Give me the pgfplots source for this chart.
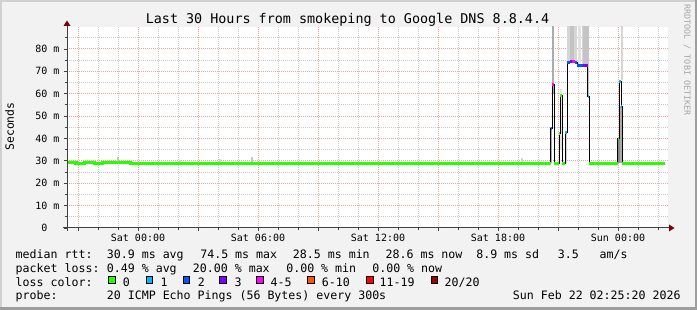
\documentclass[border=0pt]{standalone}
\usepackage{fontspec}
\setmainfont{DejaVu Sans Mono}
\usepackage{pgfplots}
\pgfplotsset{compat=1.18}
\definecolor{bgc}{HTML}{F2F2F2}
\definecolor{shadea}{HTML}{D0D0D0}
\definecolor{shadeb}{HTML}{9E9E9E}
\definecolor{mgridc}{HTML}{EBA3A3}
\definecolor{gridc}{HTML}{CACACA}
\definecolor{axisc}{HTML}{404040}
\definecolor{arrowc}{HTML}{7F0000}
\definecolor{lc0}{HTML}{26FF00}
\definecolor{lc1}{HTML}{00B8FF}
\definecolor{lc2}{HTML}{0059FF}
\definecolor{lc3}{HTML}{7E00FF}
\definecolor{lc4}{HTML}{FF00FF}
\definecolor{lc5}{HTML}{FF5500}
\definecolor{lc6}{HTML}{FF0000}
\definecolor{lc7}{HTML}{A10000}
\definecolor{smA}{HTML}{888888}
\definecolor{smB}{HTML}{ABABAB}
\definecolor{smC}{HTML}{C4C4C4}
\definecolor{smD}{HTML}{D6D6D6}
\definecolor{smE}{HTML}{E2E2E2}
\newcommand\fs[1]{\fontsize{#1}{#1}\selectfont}
\newcommand\smoke[5]{\addplot[draw=none, fill=#5, forget plot] coordinates {(#1,#3) (#2,#3) (#2,#4) (#1,#4)};}
\newcommand\seg[4]{\addplot[#4, line width=3pt, forget plot] coordinates {(#1,#3) (#2,#3)};}
\pgfplotstableread{
x y
-3.55 29.1
-3.1 28.9
-2.7 29.1
-2.2 29.0
-1.8 29.2
-1.3 29.1
-0.9 29.2
-0.4 29.0
0.1 28.8
0.6 28.7
1.1 28.8
1.6 28.6
2.2 28.7
2.9 28.6
3.5 28.7
4.2 28.6
4.9 28.8
5.5 28.6
6.2 28.7
7.0 28.6
7.7 28.7
8.4 28.6
9.1 28.7
9.9 28.6
10.6 28.7
11.4 28.6
12.1 28.7
12.9 28.6
13.7 28.7
14.5 28.7
15.3 28.8
16.1 28.7
16.9 28.8
17.7 28.7
18.5 28.8
19.3 28.7
20.0 28.8
20.63 28.8
}\baseA
\pgfplotstableread{
x y
22.565 28.7
22.9 28.9
23.3 28.7
23.7 28.8
23.985 28.8
}\baseD
\pgfplotstableread{
x y
24.215 28.7
24.6 28.8
25.0 28.7
25.5 28.8
25.9 28.6
26.2 28.7
26.35 28.7
}\baseE
\pgfplotstableread{
x y
20.3 28.8
20.63 44.6
20.72 64.3
20.82 28.7
21.07 42.3
21.12 59.4
21.22 28.8
21.37 42.5
21.47 73.9
21.6 74.4
21.72 74.5
21.85 73.8
21.95 72.5
22.27 72.6
22.475 58.9
22.565 28.7
23.985 40.0
24.05 65.6
24.15 54.5
24.215 28.7
24.5 28.7
}\median
\begin{document}
\begin{tikzpicture}[x=1pt,y=1pt]
\fill[bgc] (0,0) rectangle (697,310);
\fill[shadea] (0,0) rectangle (2,310);
\fill[shadea] (0,308) rectangle (697,310);
\fill[shadeb] (695,0) rectangle (697,310);
\fill[shadeb] (0,0) rectangle (697,2.5);
\begin{axis}[
  at={(67pt,82pt)}, anchor=south west,
  scale only axis, width=601pt, height=201pt,
  xmin=-3.55, xmax=26.5, ymin=0, ymax=89.8,
  axis line style={draw=none},
  axis background/.style={fill=white},
  tick pos=left, tick align=outside,
  major tick length=3pt, minor tick length=2pt,
  every tick/.style={axisc, line width=0.8pt},
  xtick={-3,0,...,24},
  xticklabels={,Sat 00:00,,Sat 06:00,,Sat 12:00,,Sat 18:00,,Sun 00:00},
  minor xtick={-3,-2,...,26},
  ytick={0,10,...,80},
  yticklabels={0\hphantom{xx},10 m,20 m,30 m,40 m,50 m,60 m,70 m,80 m},
  minor ytick={5,15,...,85},
  grid=both,
  major grid style={mgridc, line width=1pt, dash pattern=on 1pt off 1pt},
  minor grid style={gridc, line width=1pt, dash pattern=on 1pt off 1pt},
  tick label style={font=\fs{10}, text=black},
  xticklabel style={anchor=base, yshift=-10.5pt},
  yticklabel style={anchor=east, xshift=-1pt},
]
% smoke (ping spread)
\smoke{-3.52}{-3.45}{28.4}{29.9}{smC}
\smoke{-1.78}{-1.70}{28.0}{29.2}{smC}
\smoke{-1.03}{-0.93}{28.5}{31.7}{smC}
\smoke{2.06}{2.14}{28.5}{30.3}{smD}
\smoke{4.06}{4.14}{28.5}{30.8}{smD}
\smoke{5.66}{5.74}{28.5}{31.9}{smC}
\smoke{19.15}{19.23}{28.5}{31.1}{smD}
\smoke{20.60}{20.715}{29.0}{45.0}{smB}
\smoke{20.715}{20.815}{60.0}{95}{smB}
\smoke{21.10}{21.215}{35.0}{62.0}{smE}
\smoke{21.365}{21.465}{29.0}{43.0}{smD}
\smoke{21.465}{21.95}{74.0}{95}{smD}
\smoke{21.575}{21.80}{75.0}{95}{smC}
\smoke{21.99}{22.15}{73.5}{95}{smE}
\smoke{22.185}{22.565}{72.0}{95}{smD}
\smoke{22.25}{22.475}{73.0}{95}{smC}
\smoke{22.475}{22.565}{59.0}{95}{smC}
\smoke{23.965}{24.10}{29.0}{40.0}{smA}
\smoke{24.10}{24.215}{29.0}{54.5}{smB}
\smoke{24.135}{24.235}{66.0}{95}{smD}
% median (black connecting line)
\addplot[black, line width=1pt, const plot, forget plot] table[x=x,y=y] {\median};
% loss 0 baseline
\addplot[lc0, line width=3pt, const plot, forget plot] table[x=x,y=y] {\baseA};
\addplot[lc0, line width=3pt, const plot, forget plot] table[x=x,y=y] {\baseD};
\addplot[lc0, line width=3pt, const plot, forget plot] table[x=x,y=y] {\baseE};
\seg{20.82}{21.07}{28.7}{lc0}
\seg{21.22}{21.37}{28.8}{lc0}
% coloured median pieces
\seg{20.63}{20.72}{44.6}{lc2}
\seg{20.72}{20.82}{64.3}{lc4}
\seg{21.07}{21.12}{42.3}{lc0}
\seg{21.12}{21.22}{59.4}{lc0}
\seg{21.37}{21.47}{42.5}{lc1}
\seg{21.47}{21.60}{73.9}{lc2}
\seg{21.60}{21.72}{74.4}{lc3}
\seg{21.72}{21.85}{74.5}{lc4}
\seg{21.85}{21.95}{73.8}{lc2}
\seg{21.95}{22.27}{72.5}{lc2}
\seg{22.27}{22.475}{72.6}{lc3}
\seg{22.475}{22.565}{58.9}{lc1}
\seg{23.985}{24.05}{40.0}{lc0}
\seg{24.05}{24.15}{65.6}{lc1}
\seg{24.15}{24.215}{54.5}{lc1}
\end{axis}
% axes lines and arrows
\draw[axisc, line width=1pt] (63,82) -- (670,82);
\draw[axisc, line width=1pt] (67,79) -- (67,285);
\fill[arrowc] (67,289.5) -- (63.5,284) -- (70.5,284) -- cycle;
\fill[arrowc] (674.5,82) -- (669,85.5) -- (669,78.5) -- cycle;
% title and labels
\node[anchor=base, inner sep=0] at (347.5,286) {\fs{13.4}Last 30 Hours from smokeping to Google DNS 8.8.4.4};
\node[rotate=90, inner sep=0] at (9.5,183.5) {\fs{11.4}Seconds};
\node[rotate=-90, inner sep=0, text={rgb,255:red,165;green,165;blue,165}] at (687,250) {\fs{8.4}RRDTOOL / TOBI OETIKER};
% legend
\begin{scope}[every node/.style={anchor=base west, inner sep=0, font=\fs{11.6}}]
\node at (15.5,51.7) {median rtt:};
\node at (106.7,51.7) {30.9 ms avg};
\node at (200.1,51.7) {74.5 ms max};
\node at (292.7,51.7) {28.5 ms min};
\node at (385.4,51.7) {28.6 ms now};
\node at (476.1,51.7) {8.9 ms sd};
\node at (557.7,51.7) {3.5};
\node at (599.4,51.7) {am/s};
\node at (15.5,37.7) {packet loss:};
\node at (106.7,37.7) {0.49 \% avg};
\node at (192.7,37.7) {20.00 \% max};
\node at (286.1,37.7) {0.00 \% min};
\node at (372.1,37.7) {0.00 \% now};
\node at (15.5,23.7) {loss color:};
\node at (122.7,23.7) {0};
\node at (160.4,23.7) {1};
\node at (197.7,23.7) {2};
\node at (234.4,23.7) {3};
\node at (270.4,23.7) {4-5};
\node at (321.7,23.7) {6-10};
\node at (379.4,23.7) {11-19};
\node at (444.4,23.7) {20/20};
\node at (15.5,10) {probe:};
\node at (106.7,10) {20 ICMP Echo Pings (56 Bytes) every 300s};
\node at (512.7,10) {Sun Feb 22 02:25:20 2026};
\end{scope}
\foreach \bx/\bc in {108.3/lc0,145.7/lc1,182.7/lc2,219.3/lc3,256/lc4,307.3/lc5,366/lc6,430.7/lc7}{
  \filldraw[fill=\bc, draw=black, line width=1pt] (\bx+0.5,26.5) rectangle (\bx+7,33);
}
\end{tikzpicture}
\end{document}
